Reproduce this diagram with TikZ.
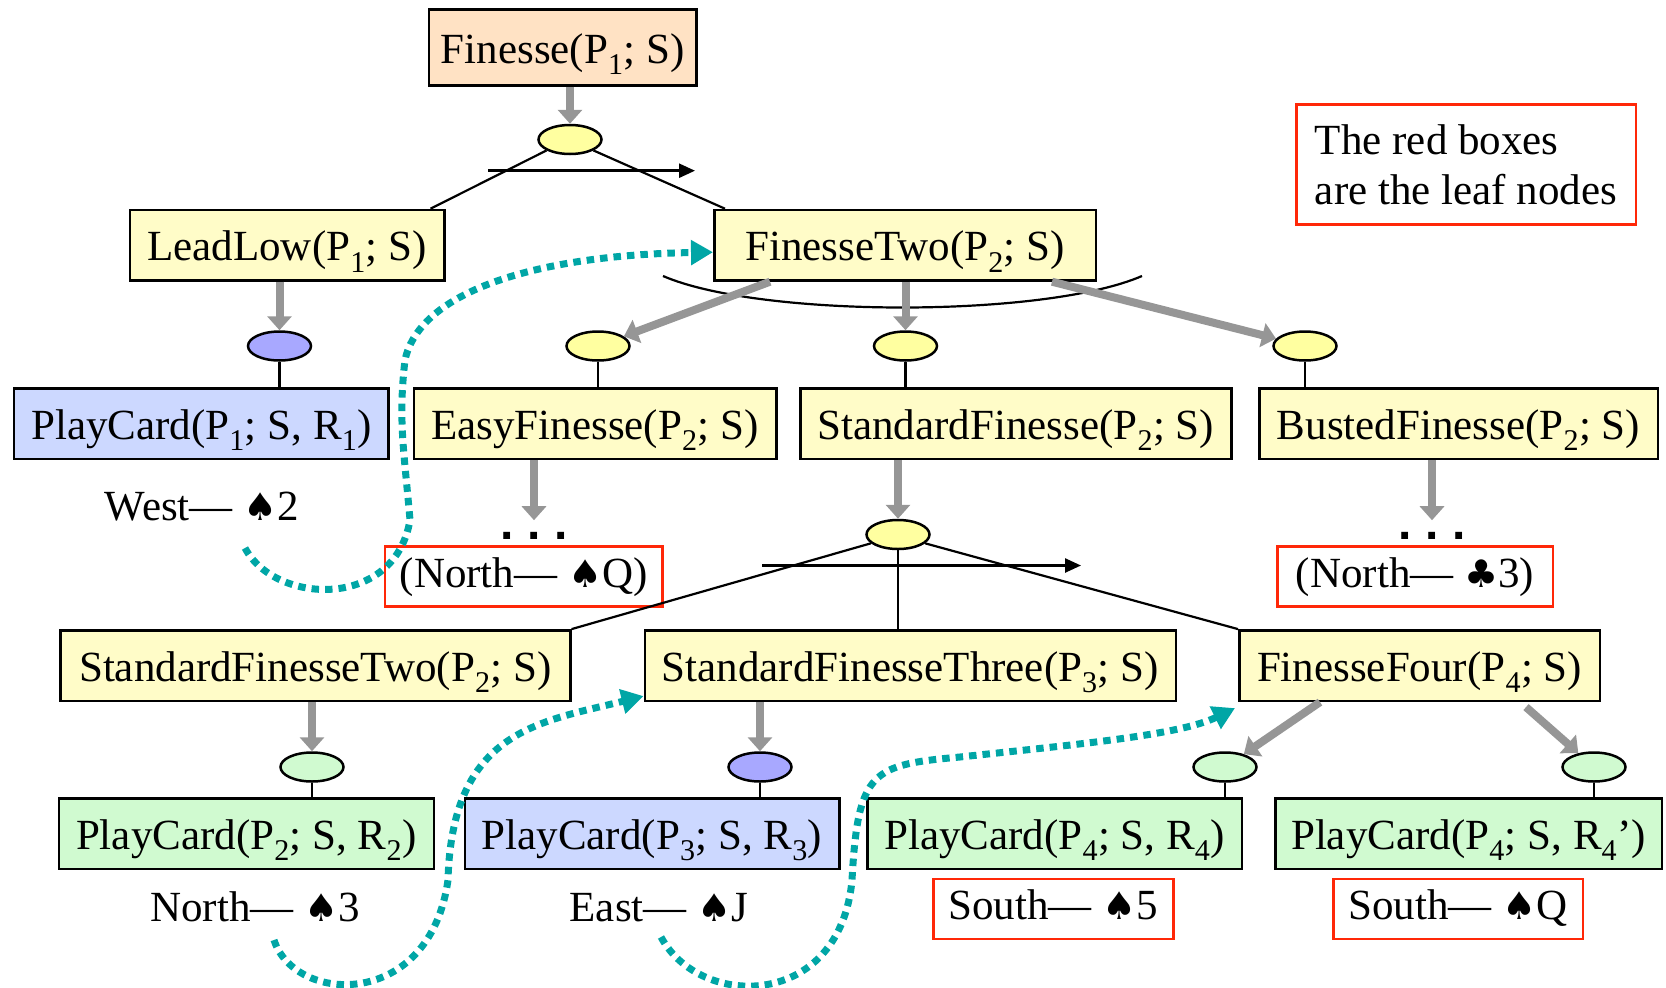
\documentclass[tikz,border=0pt]{standalone}
\usepackage{fontspec}
\setmainfont{Liberation Serif}
\newfontfamily\suitfont{DejaVu Sans}
\newfontfamily\dotfont{Liberation Sans}
\usetikzlibrary{arrows.meta,shapes.geometric,positioning}

\definecolor{peach}{RGB}{255,226,196}
\definecolor{taskyellow}{RGB}{255,252,200}
\definecolor{methodyellow}{RGB}{255,255,160}
\definecolor{taskblue}{RGB}{204,216,255}
\definecolor{methodblue}{RGB}{168,168,255}
\definecolor{taskgreen}{RGB}{208,250,208}
\definecolor{leafred}{RGB}{255,40,8}
\definecolor{decgray}{RGB}{150,150,150}
\definecolor{tracecyan}{RGB}{0,166,166}

\newcommand{\spadecard}{{\suitfont\fontsize{38}{40}\selectfont ♠}}
\newcommand{\clubcard}{{\suitfont\fontsize{38}{40}\selectfont ♣}}

\begin{document}
\begin{tikzpicture}
  [x=1pt,y=-1pt,font=\fontsize{43}{50.7}\selectfont,
   task/.style={draw,line width=2.5pt,fill=taskyellow,inner sep=0pt,
     minimum height=70.5pt,text height=31pt,text depth=0pt},
   method/.style={ellipse,draw,line width=2.5pt,fill=methodyellow,inner sep=0pt,
     minimum width=63pt,minimum height=29pt},
   leaf/.style={draw=leafred,line width=2.5pt,inner sep=0pt,
     minimum height=60pt,text height=28pt,text depth=7pt},
   note/.style={draw=leafred,line width=2.5pt,inner sep=0pt,align=left},
   card/.style={inner sep=0pt,text height=31pt,text depth=0pt},
   elided/.style={inner sep=0pt,font=\dotfont\fontsize{48}{50}\selectfont\bfseries},
   link/.style={line width=2.2pt},
   order/.style={line width=2.5pt,-{Triangle[length=16pt,width=14pt]}},
   decomp/.style={draw=decgray,line width=8pt,-{Triangle[length=14pt,width=24pt]}},
   trace/.style={draw=tracecyan,line width=7pt,dash pattern=on 7.5pt off 6pt,
     -{Triangle[length=22pt,width=24pt]}}]

  \useasboundingbox (0,0) rectangle (1666,988);

  \node[task,fill=peach,minimum width=267.5pt,minimum height=76pt] (finesse) at (562.7,47.5) {Finesse(P\textsubscript{1}; S)};
  \node[method] (top choice) at (570,139.5) {};

  \node[task,minimum width=314.5pt] (lead low)    at (287,245.2) {LeadLow(P\textsubscript{1}; S)};
  \node[task,minimum width=381.5pt] (finesse two) at (905,245.2) {FinesseTwo(P\textsubscript{2}; S)};

  \node[method,fill=methodblue] (lead choice) at (279.5,346) {};
  \node[method] (easy choice)     at (598,346)   {};
  \node[method] (standard choice) at (905.5,346) {};
  \node[method] (busted choice)   at (1305,346)  {};

  \node[task,fill=taskblue,minimum width=374.5pt] (play one) at (201.4,423.5) {PlayCard(P\textsubscript{1}; S, R\textsubscript{1})};
  \node[task,minimum width=362.5pt] (easy)     at (595,423.5)    {EasyFinesse(P\textsubscript{2}; S)};
  \node[task,minimum width=431pt]   (standard) at (1015.8,423.5) {StandardFinesse(P\textsubscript{2}; S)};
  \node[task,minimum width=398.5pt] (busted)   at (1458.5,423.5) {BustedFinesse(P\textsubscript{2}; S)};

  \node[card] (west card) at (202,504.5) {West--- \spadecard2};
  \node[elided] (easy rest)   at (534,536)  {.\hspace{14pt}.\hspace{14pt}.};
  \node[elided] (busted rest) at (1432,536) {.\hspace{14pt}.\hspace{14pt}.};
  \node[leaf,minimum width=277.5pt] (north queen) at (523.6,576.5) {(North--- \spadecard Q)};
  \node[leaf,minimum width=275.5pt] (north club)  at (1415,576.5)  {(North--- \clubcard3)};

  \node[method] (sweep choice) at (898,534.5) {};

  \node[task,minimum width=510pt]   (standard two)   at (315.3,665.6)  {StandardFinesseTwo(P\textsubscript{2}; S)};
  \node[task,minimum width=531pt]   (standard three) at (910.3,665.6)  {StandardFinesseThree(P\textsubscript{3}; S)};
  \node[task,minimum width=360.5pt] (finesse four)   at (1419.5,665.6) {FinesseFour(P\textsubscript{4}; S)};

  \node[method,fill=taskgreen]  (two choice)    at (312,767)  {};
  \node[method,fill=methodblue] (three choice)  at (760,767)  {};
  \node[method,fill=taskgreen]  (four choice)   at (1225,767) {};
  \node[method,fill=taskgreen]  (four choice b) at (1594,767) {};

  \node[task,fill=taskgreen,minimum width=375pt]  (play two)    at (246.3,833.6)  {PlayCard(P\textsubscript{2}; S, R\textsubscript{2})};
  \node[task,fill=taskblue,minimum width=374.5pt] (play three)  at (652,833.6)    {PlayCard(P\textsubscript{3}; S, R\textsubscript{3})};
  \node[task,fill=taskgreen,minimum width=374.5pt](play four)   at (1054.5,833.6) {PlayCard(P\textsubscript{4}; S, R\textsubscript{4})};
  \node[task,fill=taskgreen,minimum width=386.5pt](play four b) at (1468.5,833.6) {PlayCard(P\textsubscript{4}; S, R\textsubscript{4}’)};

  \node[card] (north card) at (255,906) {North--- \spadecard3};
  \node[card] (east card)  at (659,906) {East--- \spadecard J};
  \node[leaf,minimum width=240pt]   (south five)  at (1053.3,908.8) {South--- \spadecard5};
  \node[leaf,minimum width=249.5pt] (south queen) at (1458,908.8)   {South--- \spadecard Q};

  \node[note,minimum width=339.5pt,minimum height=120pt] (legend) at (1466,164.7)
    {The red boxes\\are the leaf nodes};

  \coordinate (sweep a) at (488,170.7);
  \coordinate (sweep a end) at (695,170.7);
  \coordinate (sweep b) at (762,565.5);
  \coordinate (sweep b end) at (1081,565.5);
  \coordinate (arc left) at (663,276);
  \coordinate (arc right) at (1142,276);
  \coordinate (west out) at (245,548);
  \coordinate (north out) at (274,940);
  \coordinate (east out) at (661,937);

  \draw[decomp] (finesse.south -| top choice) -- (top choice);
  \draw[link] (top choice.205) -- ([xshift=-15pt]lead low.north east);
  \draw[link] (top choice.-25) -- ([xshift=12pt]finesse two.north west);
  \draw[order] (sweep a) -- (sweep a end);

  \draw[decomp] (lead low.south -| lead choice) -- (lead choice);
  \draw[link] (lead choice) -- (lead choice |- play one.north);
  \draw[link] (arc left) .. controls (760,318) and (1045,318) .. (arc right);
  \draw[decomp] ([xshift=-135pt]finesse two.south) -- (easy choice);
  \draw[decomp] (finesse two.south -| standard choice) -- (standard choice);
  \draw[decomp] ([xshift=147pt]finesse two.south) -- (busted choice);
  \draw[link] (easy choice) -- (easy choice |- easy.north);
  \draw[link] (standard choice) -- (standard choice |- standard.north);
  \draw[link] (busted choice) -- (busted choice |- busted.north);

  \draw[decomp] (easy.south -| easy rest) -- ([yshift=12pt]easy rest.north);
  \draw[decomp] (busted.south -| busted rest) -- ([yshift=12pt]busted rest.north);
  \draw[decomp] (standard.south -| sweep choice) -- (sweep choice);

  \draw[link] (sweep choice.198) -- (standard two.north east);
  \draw[link] (sweep choice) -- (sweep choice |- standard three.north);
  \draw[link] (sweep choice.-18) -- (finesse four.north west);
  \draw[order] (sweep b) -- (sweep b end);

  \draw[decomp] (standard two.south -| two choice) -- (two choice);
  \draw[decomp] (standard three.south -| three choice) -- (three choice);
  \draw[decomp] ([xshift=-99.5pt]finesse four.south) -- (four choice);
  \draw[decomp] ([shift={(106.5pt,-5pt)}]finesse four.south) -- (four choice b);
  \draw[link] (two choice) -- (two choice |- play two.north);
  \draw[link] (three choice) -- (three choice |- play three.north);
  \draw[link] (four choice) -- (four choice |- play four.north);
  \draw[link] (four choice b) -- (four choice b |- play four b.north);

  \draw[trace] (west out) .. controls (275,605) and (395,610) .. (410,520)
    .. controls (404,450) and (398,420) .. (405,360)
    .. controls (420,290) and (540,255) .. ([yshift=-7pt]finesse two.west);
  \draw[trace] (north out) .. controls (295,1005) and (430,1010) .. (448,880)
    .. controls (452,730) and (540,722) .. ([yshift=6pt]standard three.south west);
  \draw[trace] (east out) .. controls (700,1010) and (840,1010) .. (852,880)
    .. controls (858,770) and (872,765) .. (960,757)
    .. controls (1080,744) and (1180,735) .. ([shift={(-3pt,-6pt)}]finesse four.south west);
\end{tikzpicture}
\end{document}
